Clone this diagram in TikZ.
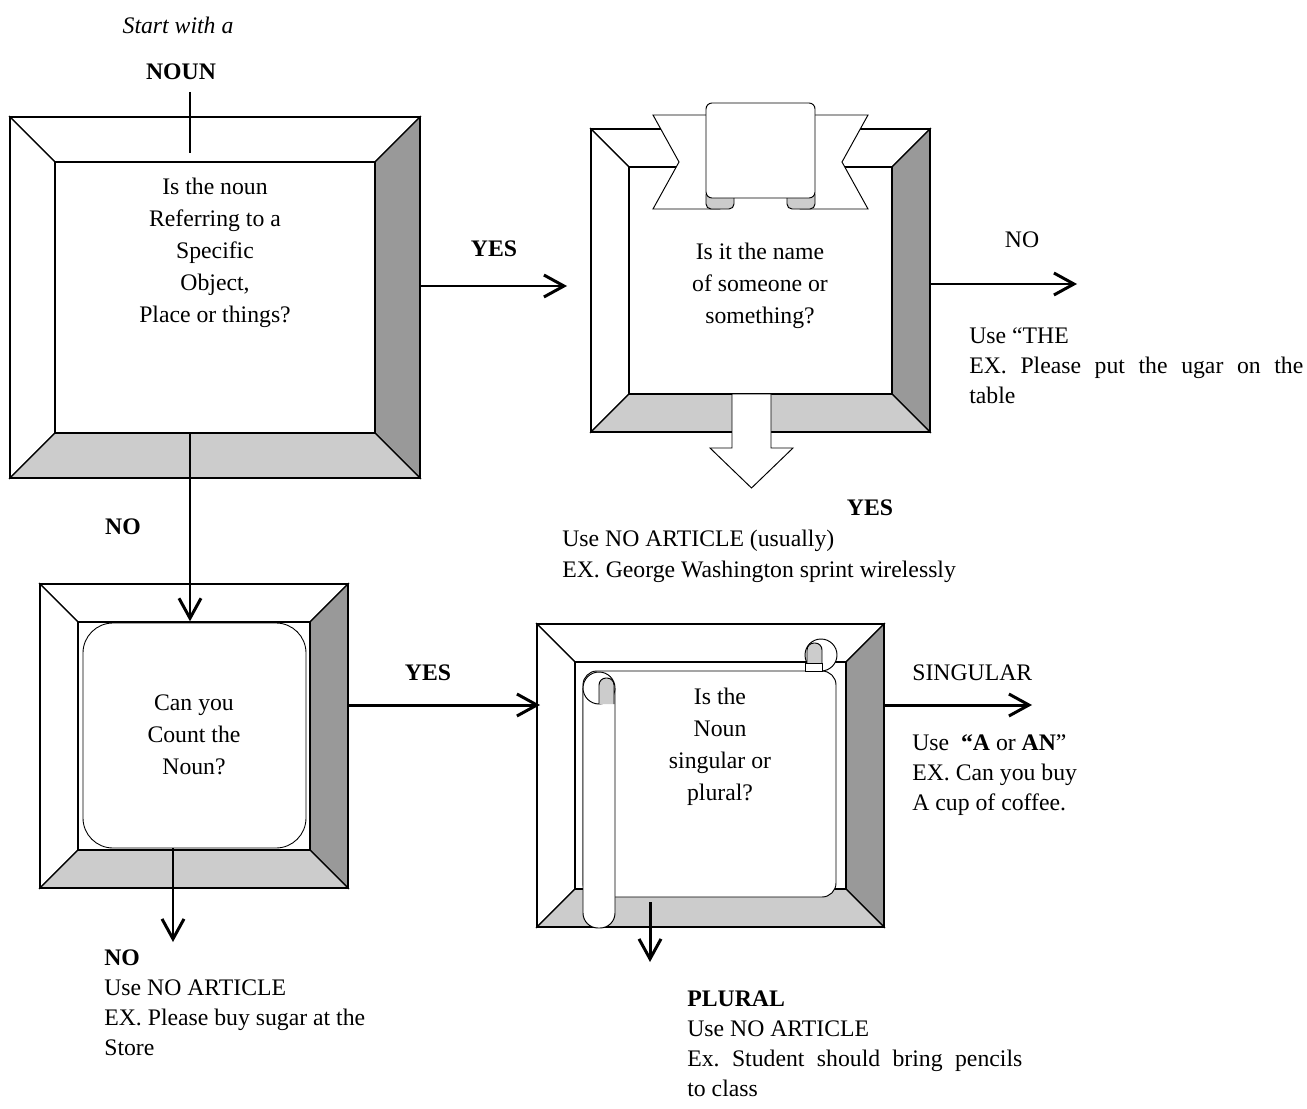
\documentclass[tikz,border=0pt]{standalone}
\usepackage{fontspec}
\setmainfont{Liberation Serif}
\frenchspacing
\usetikzlibrary{arrows.meta,positioning,calc,fit}
\definecolor{bevellight}{HTML}{CCCCCC}
\definecolor{beveldark}{HTML}{999999}
\definecolor{foldgray}{HTML}{CCCCCC}
\tikzset{
  framepen/.style={draw=black,line width=0.75pt},
  thinpen/.style={draw=black,line width=0.55pt},
  boxtext/.style={align=center,inner sep=0pt,font=\fontsize{13.5}{18.2}\selectfont},
  notetext/.style={align=left,inner sep=0pt,anchor=north west,font=\fontsize{13.5}{17.2}\selectfont},
  tagtext/.style={inner sep=0pt,font=\fontsize{13.5}{16}\selectfont\bfseries},
  plaintag/.style={inner sep=0pt,font=\fontsize{13.5}{16}\selectfont},
  flowline/.style={line width=1.7pt,draw=black},
  flowarrow/.style={flowline,-{Straight Barb[length=4mm,width=4.4mm]}}
}
\newcommand{\bevelbox}[6]{%
  \filldraw[framepen,fill=white] (#2,#3) -- (#4,#3) -- ({#4-#6},{#3+#6}) -- ({#2+#6},{#3+#6}) -- cycle;
  \filldraw[framepen,fill=white] (#2,#3) -- ({#2+#6},{#3+#6}) -- ({#2+#6},{#5-#6}) -- (#2,#5) -- cycle;
  \filldraw[framepen,fill=beveldark] (#4,#3) -- (#4,#5) -- ({#4-#6},{#5-#6}) -- ({#4-#6},{#3+#6}) -- cycle;
  \filldraw[framepen,fill=bevellight] (#2,#5) -- (#4,#5) -- ({#4-#6},{#5-#6}) -- ({#2+#6},{#5-#6}) -- cycle;
  \node[fit={(#2,#3) (#4,#5)},inner sep=0pt,framepen] (#1) {};
  \node[fit={({#2+#6},{#3+#6}) ({#4-#6},{#5-#6})},inner sep=0pt,framepen,fill=white] (#1in) {};
}

\begin{document}
\begin{tikzpicture}[x=0.02cm,y=-0.02cm]
\useasboundingbox (0,0) rectangle (1307,1108);

\bevelbox{box1}{10}{117}{420}{478}{45}
\bevelbox{box2}{591}{129}{930}{432}{38}
\bevelbox{box3}{40}{584}{348}{888}{38}
\bevelbox{box4}{537}{624}{884}{927}{38}

% ribbon on the name box
\filldraw[thinpen,fill=white] (653,115) -- (720,115) -- (720,209) -- (653,209) -- (679,162) -- cycle;
\filldraw[thinpen,fill=white] (868,115) -- (800,115) -- (800,209) -- (868,209) -- (842,162) -- cycle;
\filldraw[thinpen,fill=foldgray,rounded corners=0.1cm] (706,190) rectangle (734,209);
\filldraw[thinpen,fill=foldgray,rounded corners=0.1cm] (787,190) rectangle (815,209);
\filldraw[thinpen,fill=white,rounded corners=0.12cm] (706,103) rectangle (815,198);
\filldraw[thinpen,fill=white] (732,394) -- (771,394) -- (771,448) -- (793,448) -- (751.5,488) -- (710,448) -- (732,448) -- cycle;

\node[fit={(83,623) (306,848)},inner sep=0pt,draw,line width=0.5pt,rounded corners=0.6cm] (count) {};

% scroll on the number box
\filldraw[thinpen,fill=white,rounded corners=0.28cm] (583,671) rectangle (836,897);
\filldraw[thinpen,fill=white] (821,655) circle[radius=0.32cm];
\filldraw[thinpen,fill=foldgray,rounded corners=0.14cm] (807,665) -- (807,643) -- (822,643) -- (822,665);
\filldraw[thinpen,fill=white] (805,663) rectangle (822,671);
\filldraw[thinpen,fill=white,rounded corners=0.3cm] (583,688) -- (583,928) -- (615,928) -- (615,688);
\filldraw[thinpen,fill=white] (599,688) circle[radius=0.32cm];
\filldraw[thinpen,fill=foldgray,rounded corners=0.14cm] (599,704) -- (599,678) -- (614,678) -- (614,704);

\node[font=\fontsize{13.5}{16}\selectfont\itshape,inner sep=0pt] (start) at (178,25) {Start with a};
\node[tagtext] (noun) at (181,72) {NOUN};

\node[boxtext] (q1) at (215,253) {Is the noun\\Referring to a\\Specific\\Object,\\Place or things?};
\node[boxtext] (q2) at (760,286) {Is it the name\\of someone or\\something?};
\node[boxtext] (q3) at (194,735) {Can you\\Count the\\Noun?};
\node[boxtext] (q4) at (720,747) {Is the\\Noun\\singular or\\plural?};

\coordinate (nountop) at (190,92);
\coordinate (nounend) at (190,153);
\coordinate (yes1) at (567,286);
\coordinate (no1) at (1077,284);
\coordinate (no2) at (173,942);
\coordinate (yes2) at (540,705);
\coordinate (pl0) at (650,902);
\coordinate (pl1) at (650,962);
\coordinate (sg1) at (1032,705);

\draw[flowline] (nountop) -- (nounend);
\draw[flowarrow] (box1in.south -| nounend) -- (box3in.north -| nounend);
\draw[flowarrow] (box1.east |- yes1) -- (yes1);
\draw[flowarrow] (box2.east |- no1) -- (no1);
\draw[flowarrow] (count.south -| no2) -- (no2);
\draw[flowarrow] (box3.east |- yes2) -- (yes2);
\draw[flowarrow] (pl0) -- (pl1);
\draw[flowarrow] (box4.east |- sg1) -- (sg1);

\node[tagtext] (yestag1) at (494,249) {YES};
\node[plaintag] (notag1) at (1022,240) {NO};
\node[tagtext] (yestag2) at (870,508) {YES};
\node[tagtext] (notag2) at (123,527) {NO};
\node[tagtext] (yestag3) at (428,673) {YES};
\node[plaintag,anchor=west] (sgtag) at (912,673) {SINGULAR};

\node[notetext,text width=6.68cm,align=justify] (the) at (969,327) {Use “THE\\EX. Please put the ugar on the\linebreak table};
\node[notetext] (noart) at (562,530) {Use NO ARTICLE (usually)\\EX. George Washington sprint wirelessly};
\node[notetext] (aan) at (912,734) {Use\ \ \textbf{“A} or \textbf{AN}”\\EX. Can you buy\\A cup of coffee.};
\node[notetext] (uncount) at (104,949) {\textbf{NO}\\Use NO ARTICLE\\EX. Please buy sugar at the\\Store};
\node[notetext,text width=6.7cm,align=justify] (plural) at (687,990) {\textbf{PLURAL}\\Use NO ARTICLE\\Ex. Student should bring pencils\linebreak to class};
\end{tikzpicture}
\end{document}
